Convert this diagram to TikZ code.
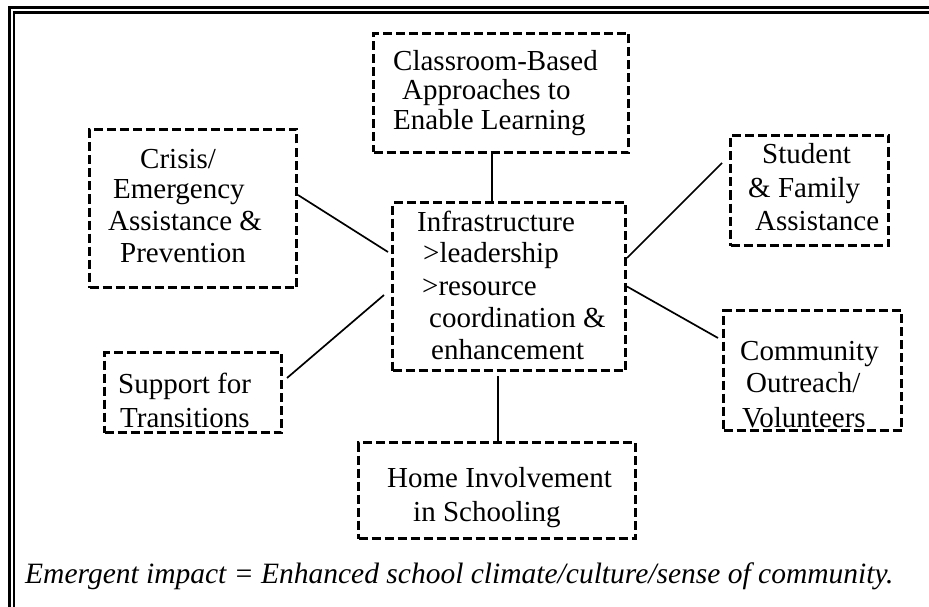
\documentclass[tikz,border=0pt]{standalone}
\usepackage{fontspec}
\setmainfont{Liberation Serif}
\usetikzlibrary{calc}
\tikzset{
  box/.style={draw, line width=3pt, dash pattern=on 9pt off 4pt, inner sep=0pt},
  txt/.style={anchor=base west, inner sep=0pt, font=\fontsize{29}{31}\selectfont},
  link/.style={line width=1.7pt},
  frameout/.style={line width=3.3pt},
  framein/.style={line width=2.5pt}
}
\begin{document}
\begin{tikzpicture}[x=1pt,y=-1pt]
\useasboundingbox (0,0) rectangle (929,607);
% frame
\draw[frameout] (9.6,607) -- (9.6,7.5) -- (929,7.5);
\draw[framein] (14,607) -- (14,12.5) -- (929,12.5);
% boxes
\node[box, minimum width=255pt, minimum height=119pt] (cls) at (501,93) {};
\node[box, minimum width=233pt, minimum height=168pt] (inf) at (509,286.5) {};
\node[box, minimum width=207pt, minimum height=158pt] (cri) at (193,208.5) {};
\node[box, minimum width=177pt, minimum height=80pt] (sup) at (193,392.5) {};
\node[box, minimum width=158pt, minimum height=110pt] (stu) at (809.5,190.5) {};
\node[box, minimum width=178pt, minimum height=120pt] (com) at (812.5,370.5) {};
\node[box, minimum width=277pt, minimum height=96pt] (hom) at (497,490.5) {};
% texts
\node[txt] (cls1) at (393,71) {Classroom-Based};
\node[txt] (cls2) at (402,100) {Approaches to};
\node[txt] (cls3) at (393,130) {Enable Learning};
\node[txt] (inf1) at (417,231) {Infrastructure};
\node[txt] (inf2) at (423,262) {>leadership};
\node[txt] (inf3) at (422,295) {>resource};
\node[txt] (inf4) at (429,327) {coordination \&};
\node[txt] (inf5) at (431,359) {enhancement};
\node[txt] (cri1) at (140,168) {Crisis/};
\node[txt] (cri2) at (113,198) {Emergency};
\node[txt] (cri3) at (108,230) {Assistance \&};
\node[txt] (cri4) at (120,262) {Prevention};
\node[txt] (stu1) at (762,164) {Student};
\node[txt] (stu2) at (748,197) {\& Family};
\node[txt] (stu3) at (755,230) {Assistance};
\node[txt] (com1) at (740,360) {Community};
\node[txt] (com2) at (746,392) {Outreach/};
\node[txt] (com3) at (742,427) {Volunteers};
\node[txt] (sup1) at (118,393) {Support for};
\node[txt] (sup2) at (120,427) {Transitions};
\node[txt] (hom1) at (387,487) {Home Involvement};
\node[txt] (hom2) at (413,521) {in Schooling};
\node[anchor=base west, inner sep=0pt, font=\fontsize{29.5}{31}\selectfont\itshape] (emg) at (25,583)
  {Emergent impact = Enhanced school climate/culture/sense of community.};
% connectors
\draw[link] ([xshift=-9pt]cls.south) -- ([xshift=-17pt]inf.north);
\draw[link] ([xshift=-11pt,yshift=-4pt]inf.south) -- ([xshift=1pt]hom.north);
\draw[link] ([yshift=13.5pt]cri.east) -- ([yshift=34.5pt,xshift=-3pt]inf.west);
\draw[link] ([yshift=14.5pt,xshift=4pt]sup.east) -- ([yshift=-8.5pt,xshift=-7pt]inf.west);
\draw[link] ([yshift=28.5pt]inf.east) -- ([yshift=27.5pt,xshift=-7pt]stu.west);
\draw[link] (inf.east) -- ([yshift=32.5pt,xshift=-4pt]com.west);
\end{tikzpicture}
\end{document}
